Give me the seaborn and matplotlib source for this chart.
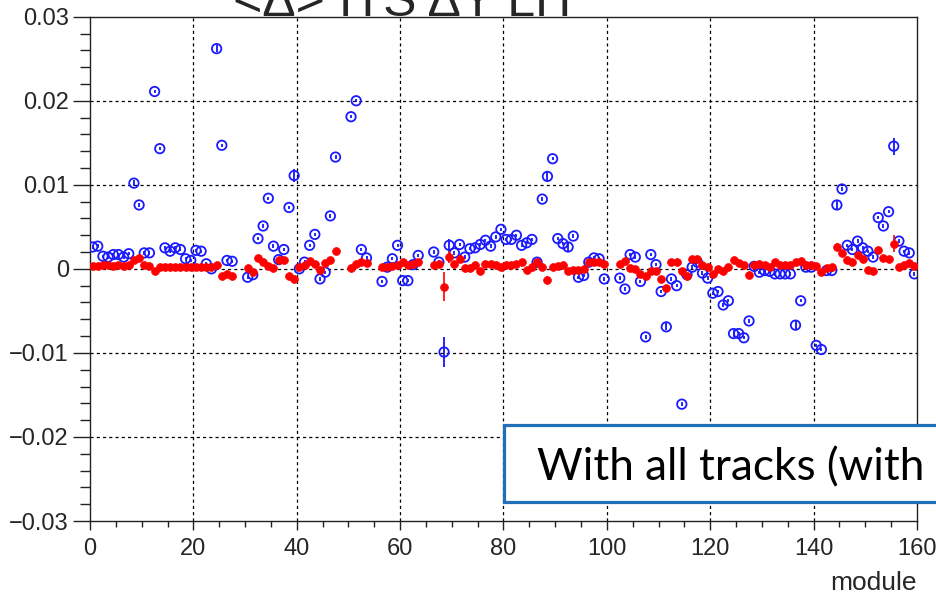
import numpy as np
import pandas as pd
import matplotlib
matplotlib.use("Agg")
import matplotlib.pyplot as plt
from matplotlib.patches import Rectangle
from matplotlib.ticker import MultipleLocator
import seaborn as sns

nan = np.nan

# Mean residual per module, 160 modules (bin centres at i + 0.5)
blue_vals = [
    0.0026, 0.0027, 0.0015, 0.0014, 0.0017, 0.0017, 0.0014, 0.0018, 0.0102, 0.0076,
    0.0019, 0.0019, 0.0211, 0.0143, 0.0025, 0.0021, 0.0025, 0.0023, 0.0012, 0.0010,
    0.0022, 0.0021, 0.0006, 0.0000, 0.0262, 0.0147, 0.0010, 0.0009, nan, nan,
    -0.0010, -0.0007, 0.0036, 0.0051, 0.0084, 0.0027, 0.0011, 0.0023, 0.0073, 0.0111,
    0.0000, 0.0008, 0.0028, 0.0041, -0.0012, -0.0004, 0.0063, 0.0133, nan, nan,
    0.0181, 0.0200, 0.0023, 0.0013, nan, nan, -0.0015, 0.0002, 0.0012, 0.0028,
    -0.0014, -0.0014, 0.0005, 0.0016, nan, nan, 0.0020, 0.0008, -0.0099, 0.0028,
    0.0019, 0.0029, 0.0014, 0.0024, 0.0025, 0.0029, 0.0034, 0.0027, 0.0038, 0.0047,
    0.0035, 0.0035, 0.0040, 0.0028, 0.0031, 0.0035, 0.0008, 0.0083, 0.0110, 0.0131,
    0.0036, 0.0030, 0.0026, 0.0039, -0.0010, -0.0008, 0.0008, 0.0013, 0.0012, -0.0012,
    nan, nan, -0.0011, -0.0024, 0.0017, 0.0014, -0.0015, -0.0081, 0.0017, 0.0005,
    -0.0027, -0.0069, -0.0012, -0.0020, -0.0161, -0.0007, 0.0002, 0.0008, -0.0005, -0.0011,
    -0.0029, -0.0027, -0.0043, -0.0038, -0.0077, -0.0077, -0.0082, -0.0062, 0.0003, -0.0004,
    -0.0002, -0.0003, -0.0006, -0.0006, -0.0006, -0.0006, -0.0067, -0.0038, 0.0002, 0.0002,
    -0.0091, -0.0096, -0.0002, -0.0002, 0.0076, 0.0095, 0.0028, 0.0023, 0.0033, 0.0025,
    0.0021, 0.0014, 0.0061, 0.0051, 0.0068, 0.0146, 0.0033, 0.0021, 0.0019, -0.0006,
]

red_vals = [
    0.0003, 0.0003, 0.0004, 0.0004, 0.0003, 0.0004, 0.0003, 0.0004, 0.0010, 0.0013,
    0.0004, 0.0003, -0.0002, 0.0002, 0.0002, 0.0002, 0.0002, 0.0002, 0.0002, 0.0002,
    0.0002, 0.0002, 0.0002, 0.0002, 0.0005, -0.0008, -0.0006, -0.0008, nan, nan,
    0.0001, -0.0004, 0.0013, 0.0008, 0.0003, 0.0001, 0.0010, 0.0011, -0.0008, -0.0012,
    0.0002, 0.0005, 0.0009, 0.0006, -0.0001, 0.0007, 0.0010, 0.0021, nan, nan,
    0.0001, 0.0006, 0.0008, 0.0007, nan, nan, 0.0002, 0.0002, 0.0003, 0.0005,
    0.0008, 0.0005, 0.0006, 0.0008, nan, nan, 0.0005, 0.0006, -0.0021, 0.0014,
    0.0006, 0.0012, 0.0001, 0.0001, 0.0004, -0.0002, 0.0006, 0.0006, 0.0004, 0.0002,
    0.0004, 0.0005, 0.0006, 0.0008, -0.0001, 0.0002, 0.0008, 0.0002, -0.0013, 0.0002,
    0.0003, 0.0005, -0.0002, -0.0001, -0.0001, 0.0000, 0.0008, 0.0008, 0.0008, 0.0006,
    nan, nan, 0.0006, 0.0009, 0.0001, 0.0000, -0.0006, -0.0009, -0.0003, -0.0003,
    -0.0012, -0.0023, 0.0008, 0.0008, -0.0002, -0.0008, 0.0012, 0.0012, 0.0004, 0.0002,
    -0.0006, 0.0000, -0.0002, 0.0002, 0.0010, 0.0007, 0.0004, -0.0007, 0.0005, 0.0006,
    0.0004, 0.0002, 0.0008, 0.0005, 0.0004, 0.0004, 0.0008, 0.0009, 0.0004, 0.0004,
    0.0003, -0.0004, 0.0001, 0.0002, 0.0026, 0.0019, 0.0010, 0.0008, 0.0016, 0.0012,
    -0.0001, -0.0003, 0.0022, 0.0013, 0.0012, 0.0030, 0.0002, 0.0004, 0.0007, 0.0003,
]

# Statistical uncertainties: a common small value plus the modules with larger errors
base_err = 0.0002
blue_err_large = {8: 0.0004, 24: 0.0004, 39: 0.0008, 68: 0.0018, 69: 0.0007, 88: 0.0006,
                  92: 0.0005, 111: 0.0004, 124: 0.0004, 136: 0.0005, 144: 0.0006, 155: 0.0010}
red_err_large = {39: 0.0004, 68: 0.0017, 69: 0.0007, 88: 0.0004, 92: 0.0003,
                 124: 0.0003, 144: 0.0005, 155: 0.0010}

x_ticks = [0, 20, 40, 60, 80, 100, 120, 140, 160]
y_ticks = [-0.03, -0.02, -0.01, 0.0, 0.01, 0.02, 0.03]
y_tick_labels = ["\u22120.03", "\u22120.02", "\u22120.01", "0", "0.01", "0.02", "0.03"]

title_text = "<\u0394> ITS \u0394Y LH"
x_title = "module"
box_text = "With all tracks (with"

n_mod = len(blue_vals)
module = np.arange(n_mod) + 0.5


def errors(overrides):
    e = np.full(n_mod, base_err)
    for k, v in overrides.items():
        e[k] = v
    return e


df = pd.DataFrame({
    "module": np.concatenate([module, module]),
    "value": np.concatenate([blue_vals, red_vals]),
    "err": np.concatenate([errors(blue_err_large), errors(red_err_large)]),
    "set": ["blue"] * n_mod + ["red"] * n_mod,
})

sns.set_theme(style="white")
plt.rcParams["font.family"] = ["Liberation Sans", "DejaVu Sans"]
plt.rcParams["axes.unicode_minus"] = True

fig = plt.figure(figsize=(9.37, 5.97), dpi=100)
ax = fig.add_axes([90 / 937, 1 - 521 / 597, 827 / 937, (521 - 16.7) / 597])

# Blue: open circles
b = df[df["set"] == "blue"].dropna()
ax.errorbar(b["module"], b["value"], yerr=b["err"], fmt="none",
            ecolor="#0000ff", elinewidth=1.2, capsize=0, zorder=3)
sns.scatterplot(data=b, x="module", y="value", ax=ax, marker="o", s=46,
                color="#0000ff", facecolors="none", edgecolor="#1a1aff",
                linewidth=1.3, zorder=4, legend=False)

# Red: filled circles
r = df[df["set"] == "red"].dropna()
ax.errorbar(r["module"], r["value"], yerr=r["err"], fmt="none",
            ecolor="#ff0000", elinewidth=1.2, capsize=0, zorder=5)
sns.scatterplot(data=r, x="module", y="value", ax=ax, marker="o", s=32,
                color="#ff0000", edgecolor="#ff0000", linewidth=0.5,
                zorder=6, legend=False)

ax.set_xlim(0, 160)
ax.set_ylim(-0.03, 0.03)
ax.set_xticks(x_ticks)
ax.set_xticklabels([str(t) for t in x_ticks])
ax.set_yticks(y_ticks)
ax.set_yticklabels(y_tick_labels)
ax.xaxis.set_minor_locator(MultipleLocator(5))
ax.yaxis.set_minor_locator(MultipleLocator(0.002))
ax.set_xlabel("")
ax.set_ylabel("")

ax.tick_params(axis="y", which="major", direction="out", length=12.2, width=1,
               color="#222222", labelsize=17, pad=3, left=True)
ax.tick_params(axis="y", which="minor", direction="out", length=7.2, width=1,
               color="#222222", left=True)
ax.tick_params(axis="x", which="major", direction="out", length=6.5, width=1,
               color="#222222", labelsize=17, pad=6, bottom=True)
ax.tick_params(axis="x", which="minor", direction="out", length=4.3, width=1,
               color="#222222", bottom=True)

for s in ax.spines.values():
    s.set_color("#222222")
    s.set_linewidth(1.0)

# Dotted grid at the major ticks
for xv in x_ticks[1:-1]:
    ax.axvline(xv, color="black", lw=0.9, ls=(0, (2.5, 2.5)), zorder=1)
for yv in y_ticks[1:-1]:
    ax.axhline(yv, color="black", lw=0.9, ls=(0, (2.5, 2.5)), zorder=1)

fig.text(917 / 937, 1 - 583 / 597, x_title, ha="right", va="center", fontsize=19)

# Title, partly above the top of the canvas
fig.text(233 / 937, 1 - 16 / 597, title_text, ha="left", va="baseline", fontsize=36)

# Annotation box overlapping the lower right corner
rect = Rectangle((504 / 937, 1 - 501.7 / 597), 0.6, (501.7 - 425) / 597,
                 transform=fig.transFigure, facecolor="white", edgecolor="#1f70b8",
                 linewidth=2.3, zorder=10, clip_on=False)
fig.add_artist(rect)
fig.text(537 / 937, 1 - 480 / 597, box_text, ha="left", va="baseline",
         fontsize=31.8, family=["Lato", "DejaVu Sans"], color="black", zorder=11)

fig.savefig("out.png", dpi=100)
